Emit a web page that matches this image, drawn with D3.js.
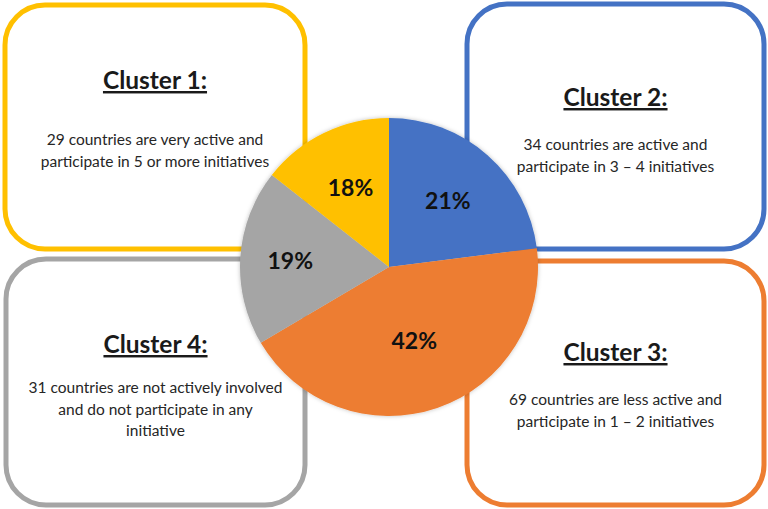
<!DOCTYPE html>
<html lang="en">
<head>
<meta charset="UTF-8">
<title>Country clusters</title>
<style>
  html, body { margin: 0; padding: 0; background: #fff; }
  svg { display: block; font-family: Lato, "Open Sans", sans-serif; }
</style>
</head>
<body>
<div id="chart"></div>
<script src="https://cdn.jsdelivr.net/npm/d3@7"></script>
<script>
// slice shares as drawn in the picture (clockwise from 12 o'clock)
const clusters = ["Cluster 2", "Cluster 3", "Cluster 4", "Cluster 1"];
const shares = [23.0, 43.5, 19.1, 14.4];
const pctLabels = ["21%", "42%", "19%", "18%"];
const colors = ["#4472C4", "#ED7D31", "#A5A5A5", "#FFC000"];

// text boxes
const boxTitles = ["Cluster 1:", "Cluster 2:", "Cluster 3:", "Cluster 4:"];
const boxLines = [
  ["29 countries are very active and", "participate in 5 or more initiatives"],
  ["34 countries are active and", "participate in 3 \u2013 4 initiatives"],
  ["69 countries are less active and", "participate in 1 \u2013 2 initiatives"],
  ["31 countries are not actively involved", "and do not participate in any", "initiative"]
];
const boxColors = ["#FFC000", "#4472C4", "#ED7D31", "#A5A5A5"];

const W = 768, H = 509;
const svg = d3.select("#chart").append("svg")
  .attr("width", W)
  .attr("height", H);

// box layout: x0, y0, x1, y1, title baseline, first body baseline
const boxLayout = [
  {x0: 5, y0: 5, x1: 305, y1: 249, ty: 89, by: 145},
  {x0: 467, y0: 4, x1: 764, y1: 249, ty: 106, by: 150},
  {x0: 467, y0: 261, x1: 764, y1: 505, ty: 361, by: 405},
  {x0: 6, y0: 259, x1: 305, y1: 505, ty: 353, by: 393}
];

const boxes = svg.selectAll("g.box")
  .data(boxTitles)
  .enter().append("g")
  .attr("class", "box");

boxes.append("rect")
  .attr("x", (d, i) => boxLayout[i].x0)
  .attr("y", (d, i) => boxLayout[i].y0)
  .attr("width", (d, i) => boxLayout[i].x1 - boxLayout[i].x0)
  .attr("height", (d, i) => boxLayout[i].y1 - boxLayout[i].y0)
  .attr("rx", 40)
  .attr("ry", 40)
  .attr("fill", "#fff")
  .attr("stroke", (d, i) => boxColors[i])
  .attr("stroke-width", 5);

boxes.append("text")
  .attr("x", (d, i) => (boxLayout[i].x0 + boxLayout[i].x1) / 2)
  .attr("y", (d, i) => boxLayout[i].ty)
  .attr("text-anchor", "middle")
  .attr("font-size", "24.5px")
  .attr("font-weight", "bold")
  .attr("fill", "#1a1a1a")
  .style("text-decoration", "underline")
  .text(d => d);

boxes.each(function (d, i) {
  const b = boxLayout[i];
  d3.select(this).selectAll("text.body")
    .data(boxLines[i])
    .enter().append("text")
    .attr("class", "body")
    .attr("x", (b.x0 + b.x1) / 2)
    .attr("y", (t, j) => b.by + j * 21.5)
    .attr("text-anchor", "middle")
    .attr("font-size", "15.5px")
    .attr("fill", "#262626")
    .text(t => t);
});

// pie
const cx = 389, cy = 267, r = 149;

const defs = svg.append("defs");
defs.append("filter")
  .attr("id", "soft")
  .attr("x", "-10%").attr("y", "-10%")
  .attr("width", "120%").attr("height", "120%")
  .append("feDropShadow")
  .attr("dx", 0).attr("dy", 0)
  .attr("stdDeviation", 2)
  .attr("flood-color", "#000")
  .attr("flood-opacity", 0.25);

const pie = d3.pie().sort(null).value(d => d);
const arcs = pie(shares);
const arc = d3.arc().innerRadius(0).outerRadius(r);

const g = svg.append("g")
  .attr("transform", `translate(${cx},${cy})`);

g.append("g")
  .attr("filter", "url(#soft)")
  .selectAll("path")
  .data(arcs)
  .enter().append("path")
  .attr("d", arc)
  .attr("fill", (d, i) => colors[i]);

// label radius per slice
const labelR = [89, 78, 99, 88];
g.selectAll("text.pct")
  .data(arcs)
  .enter().append("text")
  .attr("class", "pct")
  .attr("transform", (d, i) => {
    const c = d3.arc().innerRadius(labelR[i]).outerRadius(labelR[i]).centroid(d);
    return `translate(${c[0]},${c[1]})`;
  })
  .attr("text-anchor", "middle")
  .attr("dy", "0.36em")
  .attr("font-size", "23px")
  .attr("font-weight", "bold")
  .attr("fill", "#111")
  .text((d, i) => pctLabels[i]);
</script>
</body>
</html>
